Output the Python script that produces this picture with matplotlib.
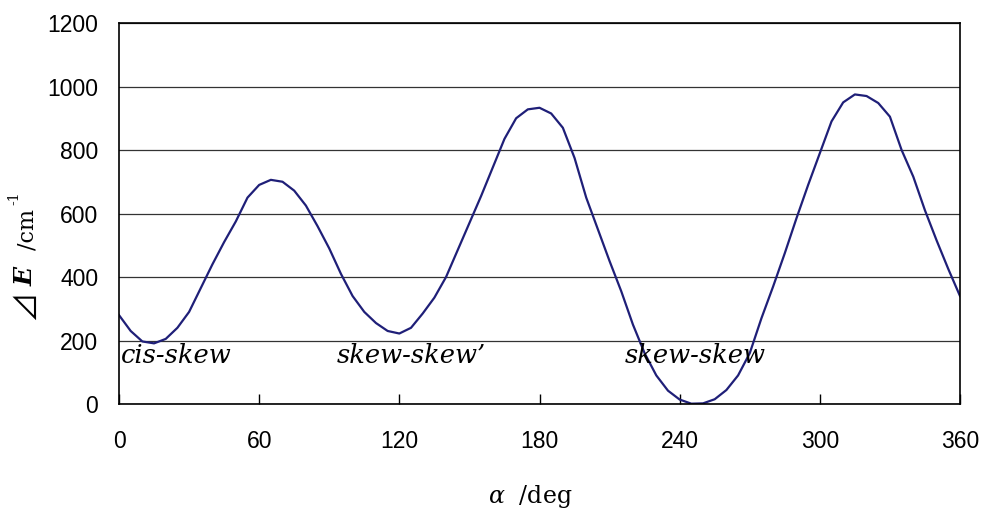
import numpy as np
import matplotlib
matplotlib.use('Agg')
import matplotlib.pyplot as plt

# torsion angle alpha (deg) and relative energy (cm-1)
alpha = [0, 5, 10, 15, 20, 25, 30, 35, 40, 45, 50, 55, 60, 65, 70, 75, 80, 85, 90,
         95, 100, 105, 110, 115, 120, 125, 130, 135, 140, 145, 150, 155, 160, 165,
         170, 175, 180, 185, 190, 195, 200, 205, 210, 215, 220, 225, 230, 235, 240,
         245, 250, 255, 260, 265, 270, 275, 280, 285, 290, 295, 300, 305, 310, 315,
         320, 325, 330, 335, 340, 345, 350, 355, 360]
dE = [280, 230, 197, 191, 205, 240, 290, 365, 440, 510, 575, 650, 690, 706, 700,
      672, 625, 560, 490, 410, 340, 290, 255, 230, 222, 240, 285, 335, 400, 485,
      570, 655, 745, 835, 900, 928, 933, 915, 870, 775, 650, 550, 450, 355, 250,
      160, 90, 42, 14, 1, 2, 15, 44, 90, 160, 270, 370, 475, 585, 690, 790, 890,
      950, 975, 970, 948, 905, 800, 716, 610, 515, 425, 340]

xticks = [0, 60, 120, 180, 240, 300, 360]
yticks = [0, 200, 400, 600, 800, 1000, 1200]

labels = ['cis-skew', 'skew-skew\u2019', 'skew-skew']
label_x = [1, 93.3, 216.6]
label_y = [128, 128, 128]

plt.rcParams['mathtext.fontset'] = 'dejavuserif'

W, H = 984, 511
fig = plt.figure(figsize=(W / 100, H / 100), dpi=100)
ax = fig.add_axes([119 / W, 1 - 404 / H, (960 - 119) / W, (404 - 23) / H])

ax.plot(alpha, dE, color='#1f1f78', lw=1.6, solid_joinstyle='round')

ax.set_xlim(0, 360)
ax.set_ylim(0, 1200)
ax.set_xticks(xticks)
ax.set_yticks(yticks)
ax.yaxis.grid(True, color='#333333', lw=0.9)
ax.set_axisbelow(True)
ax.tick_params(axis='x', direction='in', length=7, width=1, pad=19)
ax.tick_params(axis='y', length=0, pad=15)
for lab in ax.get_xticklabels() + ax.get_yticklabels():
    lab.set_fontfamily('Liberation Sans')
    lab.set_fontsize(16.5)
for s in ax.spines.values():
    s.set_color('black')
    s.set_linewidth(1.2)

for t, x, y in zip(labels, label_x, label_y):
    ax.text(x, y, t, family='DejaVu Serif', style='italic', fontsize=18.5,
            va='baseline', ha='left')

# x label
fig.text(530 / W, 1 - 503 / H, r'$\alpha$  /deg', family='DejaVu Serif',
         fontsize=17, ha='center', va='baseline')

# y label, built from pieces
fig.text(26 / W, 1 - 305 / H, '\u22bf', family=['Noto Sans CJK JP', 'DejaVu Sans'],
         fontsize=22, rotation=90, ha='center', va='center')
fig.text(26 / W, 1 - 276 / H, 'E', family='DejaVu Serif', style='italic',
         weight='bold', fontsize=18, rotation=90, ha='center', va='center')
fig.text(27 / W, 1 - 230 / H, '/cm', family='DejaVu Serif', fontsize=16,
         rotation=90, ha='center', va='center')
fig.text(14 / W, 1 - 198 / H, '-1', family='DejaVu Serif', fontsize=10,
         rotation=90, ha='center', va='center')

fig.savefig('out.png', dpi=100)
